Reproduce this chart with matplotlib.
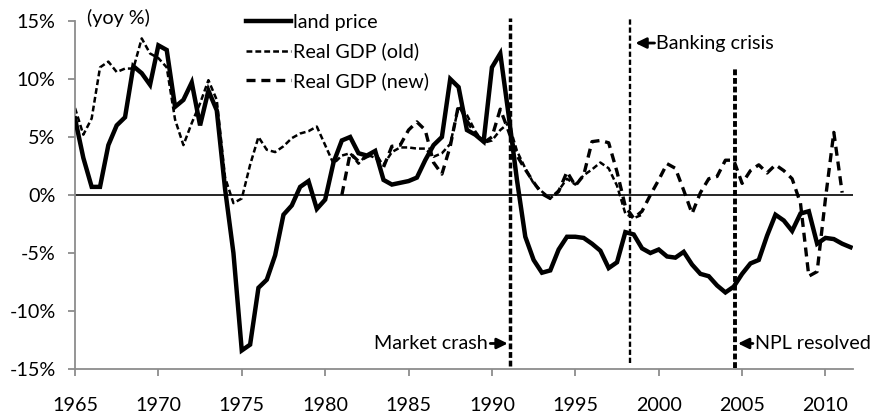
import matplotlib
matplotlib.use("Agg")
import matplotlib.pyplot as plt
import numpy as np

plt.rcParams["font.family"] = ["Lato", "DejaVu Sans"]
plt.rcParams["font.size"] = 14.2
plt.rcParams["lines.scale_dashes"] = False

# land price, semi-annual (yoy %)
land_years = np.arange(1965.0, 2012.0, 0.5)
land_price = [
    6.6, 3.2, 0.7, 0.7, 4.3, 6.0, 6.7, 11.1, 10.5, 9.5,
    12.9, 12.5, 7.6, 8.2, 9.7, 6.0, 9.0, 7.3, 0.5, -5.0,
    -13.4, -12.9, -8.0, -7.3, -5.2, -1.7, -0.9, 0.7, 1.2, -1.2,
    -0.4, 2.8, 4.7, 5.0, 3.6, 3.4, 3.8, 1.3, 0.9, 1.05,
    1.2, 1.5, 3.0, 4.3, 5.0, 10.0, 9.3, 5.6, 5.2, 4.6,
    11.0, 12.2, 6.9, 1.3, -3.6, -5.6, -6.7, -6.5, -4.7, -3.6,
    -3.6, -3.7, -4.2, -4.8, -6.3, -5.8, -3.2, -3.4, -4.6, -5.0,
    -4.7, -5.3, -5.4, -4.9, -6.0, -6.8, -7.0, -7.8, -8.4, -7.9,
    -6.8, -5.9, -5.6, -3.5, -1.7, -2.2, -3.1, -1.6, -1.4, -4.2,
    -3.7, -3.8, -4.2, -4.5,
]

# real GDP, old series
gdp_old_years = np.arange(1965.0, 1999.5, 0.5)
gdp_old = [
    7.5, 5.2, 6.6, 11.0, 11.5, 10.6, 10.9, 10.9, 13.5, 12.2,
    11.8, 11.0, 6.5, 4.3, 6.2, 7.9, 9.9, 8.2, 1.5, -0.7,
    -0.3, 2.6, 5.0, 3.9, 3.7, 4.2, 4.9, 5.3, 5.5, 5.9,
    4.3, 2.7, 3.4, 3.6, 2.7, 3.5, 3.2, 2.6, 3.7, 4.1,
    4.1, 4.0, 4.0, 3.3, 3.6, 4.4, 7.6, 6.9, 5.5, 4.5,
    4.7, 5.6, 6.2, 3.8, 2.3, 1.0, 0.3, -0.3, 0.4, 1.4,
    0.9, 1.7, 2.2, 2.8, 2.3, 0.8, -1.6, -2.0, -1.7,
]

# real GDP, new series
gdp_new_years = np.arange(1981.0, 2011.5, 0.5)
gdp_new = [
    0.0, 3.6, 2.9, 3.3, 3.6, 2.4, 4.2, 4.3, 5.6, 6.3,
    5.6, 2.8, 1.8, 4.2, 7.8, 6.4, 5.3, 4.5, 5.0, 7.4,
    5.5, 3.4, 2.2, 1.1, 0.1, -0.3, 0.3, 2.0, 0.8, 1.7,
    4.6, 4.7, 4.5, 2.0, -1.0, -2.0, -1.4, 0.0, 1.3, 2.7,
    2.3, 0.4, -1.6, 0.2, 1.4, 1.6, 3.0, 3.0, 1.0, 2.1,
    2.6, 1.9, 2.6, 2.1, 1.4, -0.7, -7.0, -6.6, -0.3, 5.4,
    0.2,
]

year_ticks = [1965, 1970, 1975, 1980, 1985, 1990, 1995, 2000, 2005, 2010]
pct_ticks = [-15, -10, -5, 0, 5, 10, 15]

event_years = [1991.1, 1998.3, 2004.6]
event_labels = ["Market crash", "Banking crisis", "NPL resolved"]

W, H = 876, 416
fig = plt.figure(figsize=(W / 100, H / 100), dpi=100)
ax = fig.add_axes([75 / W, 47 / H, (853 - 75) / W, (369 - 21) / H])

ax.axhline(0, color="black", lw=1.2, zorder=1)

ax.plot(gdp_old_years, gdp_old, color="black", lw=1.8,
        dashes=(4.2, 2.2), label="Real GDP (old)", zorder=2)
ax.plot(gdp_new_years, gdp_new, color="black", lw=2.4,
        dashes=(6.5, 4.2), label="Real GDP (new)", zorder=2)
ax.plot(land_years, land_price, color="black", lw=3.2,
        solid_joinstyle="miter", label="land price", zorder=3)

# event markers
ax.plot([event_years[0]] * 2, [-14.7, 15.3], color="black", lw=2.5,
        dashes=(4.2, 2.0), clip_on=False, zorder=2)
ax.plot([event_years[1]] * 2, [-14.5, 15.3], color="black", lw=1.7,
        dashes=(3.8, 2.0), clip_on=False, zorder=2)
ax.plot([event_years[2]] * 2, [-14.9, 10.9], color="black", lw=2.8,
        dashes=(4.2, 2.0), clip_on=False, zorder=2)

arrow = dict(arrowstyle="-|>,head_length=0.45,head_width=0.22",
             color="black", lw=2.0, shrinkA=0, shrinkB=0)
ax.annotate("", xy=(1990.95, -12.8), xytext=(1989.9, -12.8), arrowprops=arrow)
ax.text(1989.75, -12.8, event_labels[0], ha="right", va="center")
ax.annotate("", xy=(1998.6, 13.1), xytext=(1999.75, 13.1), arrowprops=arrow)
ax.text(1999.85, 13.1, event_labels[1], ha="left", va="center")
ax.annotate("", xy=(2004.75, -12.8), xytext=(2005.65, -12.8), arrowprops=arrow)
ax.text(2005.75, -12.8, event_labels[2], ha="left", va="center")

ax.text(1965.7, 15.3, "(yoy %)", ha="left", va="center", clip_on=False)

ax.set_xlim(1965, 2011.65)
ax.set_ylim(-15, 15)
ax.set_xticks(year_ticks)
ax.set_xticklabels([str(y) for y in year_ticks])
ax.set_yticks(pct_ticks)
ax.set_yticklabels([f"{v}%" for v in pct_ticks])

for side in ["top", "right"]:
    ax.spines[side].set_visible(False)
for side in ["left", "bottom"]:
    ax.spines[side].set_color("#8c8c8c")
    ax.spines[side].set_linewidth(1.3)
ax.tick_params(axis="both", colors="#8c8c8c", labelcolor="black",
               length=5, width=1.3, direction="out")
ax.tick_params(axis="y", pad=9)
ax.tick_params(axis="x", pad=15)

handles, labels = ax.get_legend_handles_labels()
order = [2, 0, 1]
ax.legend([handles[i] for i in order], [labels[i] for i in order],
          loc="upper left", bbox_to_anchor=(236 / W, 1 - 4 / H),
          bbox_transform=fig.transFigure, frameon=False, borderpad=0,
          handlelength=2.3, handletextpad=0.1, labelspacing=0.6)

fig.savefig("out.png", dpi=100)
